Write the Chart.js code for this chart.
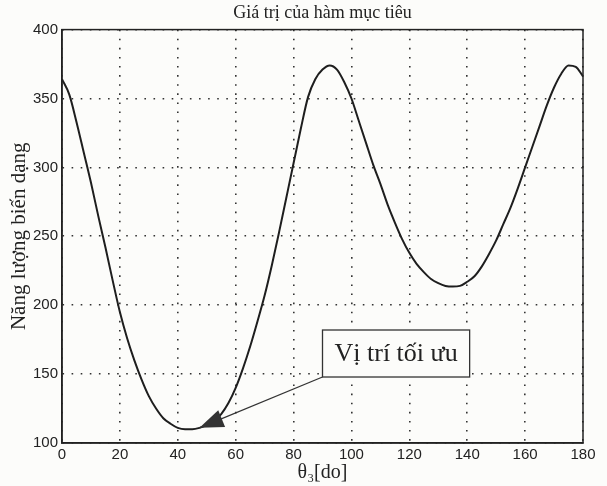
<!DOCTYPE html>
<html>
<head>
<meta charset="utf-8">
<script src="https://cdn.jsdelivr.net/npm/chart.js@4"></script>
<style>
  html, body { margin: 0; padding: 0; background: #fcfcfa; }
  #wrap { width: 607px; height: 486px; }
</style>
</head>
<body>
<div id="wrap"><canvas id="objChart"></canvas></div>
<script>
// goc theta3 (do), buoc 2.5 do, va gia tri ham muc tieu doc tu hinh
const angles = [
  0, 2.5, 5, 7.5, 10, 12.5, 15, 17.5, 20, 22.5, 25, 27.5, 30, 32.5, 35, 37.5, 40, 42.5, 45, 47.5,
  50, 52.5, 55, 57.5, 60, 62.5, 65, 67.5, 70, 72.5, 75, 77.5, 80, 82.5, 85, 87.5, 90, 92.5, 95, 97.5,
  100, 102.5, 105, 107.5, 110, 112.5, 115, 117.5, 120, 122.5, 125, 127.5, 130, 132.5, 135, 137.5,
  140, 142.5, 145, 147.5, 150, 152.5, 155, 157.5, 160, 162.5, 165, 167.5, 170, 172.5, 175, 177.5, 180
];
const energy = [
  364, 353, 333, 311, 289, 265, 242, 218, 195, 176, 160, 146, 134, 125, 118, 114, 111, 110, 110, 111,
  113, 116, 121, 129, 140, 154, 170, 188, 207, 229, 253, 278, 303, 328, 351, 364, 371, 374, 371, 362,
  350, 334, 318, 302, 288, 273, 260, 248, 238, 230, 224, 219, 216, 214, 213.5, 214,
  217, 221, 228, 237, 247, 259, 271, 285, 300, 315, 330, 345, 358, 368, 374, 373, 366
];

const xTicks = [0, 20, 40, 60, 80, 100, 120, 140, 160, 180];
const yTicks = [100, 150, 200, 250, 300, 350, 400];

const noteText = "Vị trí tối ưu";
const notePoint = [47.5, 111];   // dau mui ten (vi tri toi uu)
const noteBox = [90, 182];       // goc tren trai cua khung chu

const serif = "'Liberation Serif', 'Times New Roman', serif";
const sans = "'Liberation Sans', Arial, sans-serif";

// khung quanh vung ve + chu thich
const framePlugin = {
  id: "frame",
  afterDraw(chart) {
    const { ctx, chartArea: a, scales } = chart;
    ctx.save();
    ctx.strokeStyle = "#222";
    ctx.lineWidth = 1.5;
    ctx.strokeRect(a.left, a.top, a.right - a.left, a.bottom - a.top);

    // khung chu
    ctx.font = "26px " + serif;
    const tw = ctx.measureText(noteText).width;
    const bx = scales.x.getPixelForValue(noteBox[0]);
    const by = scales.y.getPixelForValue(noteBox[1]);
    const bw = tw + 24, bh = 47;
    ctx.fillStyle = "#fcfcfa";
    ctx.fillRect(bx, by, bw, bh);
    ctx.strokeStyle = "#333";
    ctx.lineWidth = 1.3;
    ctx.strokeRect(bx, by, bw, bh);
    ctx.fillStyle = "#222";
    ctx.textBaseline = "middle";
    ctx.fillText(noteText, bx + 12, by + bh / 2 + 1);

    // mui ten
    const tx = scales.x.getPixelForValue(notePoint[0]);
    const ty = scales.y.getPixelForValue(notePoint[1]);
    const sx = bx, sy = by + bh;
    const ang = Math.atan2(sy - ty, sx - tx);
    ctx.beginPath();
    ctx.moveTo(sx, sy);
    ctx.lineTo(tx, ty);
    ctx.lineWidth = 1.3;
    ctx.stroke();
    const len = 24, half = 9;
    const ex = tx + Math.cos(ang) * len, ey = ty + Math.sin(ang) * len;
    ctx.beginPath();
    ctx.moveTo(tx, ty);
    ctx.lineTo(ex - Math.sin(ang) * half, ey + Math.cos(ang) * half);
    ctx.lineTo(ex + Math.sin(ang) * half, ey - Math.cos(ang) * half);
    ctx.closePath();
    ctx.fillStyle = "#333";
    ctx.fill();
    ctx.restore();
  }
};

const ctx = document.getElementById("objChart").getContext("2d");

new Chart(ctx, {
  type: "line",
  data: {
    datasets: [{
      label: "Năng lượng biến dạng",
      data: angles.map((a, i) => ({ x: a, y: energy[i] })),
      borderColor: "#1e1e1e",
      borderWidth: 2,
      pointRadius: 0,
      cubicInterpolationMode: "monotone",
      fill: false
    }]
  },
  options: {
    responsive: true,
    maintainAspectRatio: false,
    animation: false,
    layout: { padding: { left: 0, right: 24, top: 0, bottom: 0 } },
    plugins: {
      legend: { display: false },
      tooltip: { enabled: false },
      title: {
        display: true,
        fullSize: false,
        text: "Giá trị của hàm mục tiêu",
        color: "#222",
        font: { family: serif, size: 18, weight: "normal" },
        padding: { top: 2, bottom: 6 }
      }
    },
    scales: {
      x: {
        type: "linear",
        min: 0,
        max: 180,
        afterBuildTicks: s => { s.ticks = xTicks.map(v => ({ value: v })); },
        afterFit: s => { s.height = 43; },
        ticks: { color: "#222", font: { family: sans, size: 15 }, padding: 3, maxRotation: 0 },
        grid: { color: "#333", lineWidth: 1.6, drawTicks: false },
        border: { display: true, color: "#222", width: 1.5, dash: [1.6, 7.5] },
        title: {
          display: true,
          text: "θ₃[do]",
          color: "#222",
          font: { family: serif, size: 20 },
          padding: { top: 0, bottom: 1 }
        }
      },
      y: {
        min: 100,
        max: 400,
        afterBuildTicks: s => { s.ticks = yTicks.map(v => ({ value: v })); },
        afterFit: s => { s.width = 62; },
        ticks: { color: "#222", font: { family: sans, size: 15 }, padding: 4 },
        grid: { color: "#333", lineWidth: 1.6, drawTicks: false },
        border: { display: true, color: "#222", width: 1.5, dash: [1.6, 7.5] },
        title: {
          display: true,
          text: "Năng lượng biến dạng",
          color: "#222",
          font: { family: serif, size: 21 },
          padding: { top: 7, bottom: 2 }
        }
      }
    }
  },
  plugins: [framePlugin]
});
</script>
</body>
</html>
